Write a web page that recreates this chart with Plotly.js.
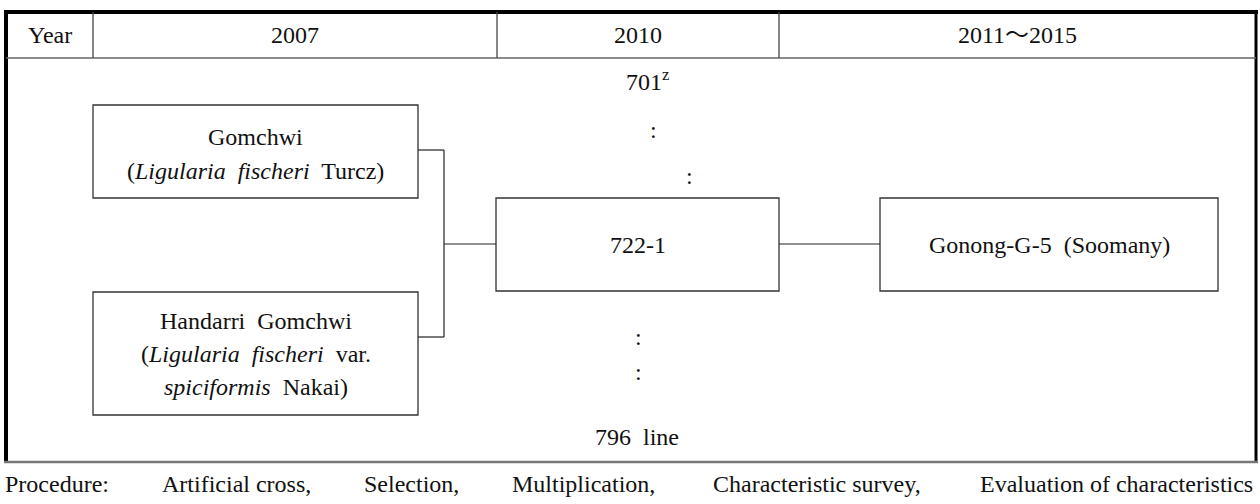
<!DOCTYPE html>
<html>
<head>
<meta charset="utf-8">
<script src="https://cdn.plot.ly/plotly-3.0.1.min.js"></script>
<style>html,body{margin:0;padding:0;background:#fff;}#chart{width:1260px;height:504px;}</style>
</head>
<body>
<div id="chart"></div>
<script>
// ---- content ----
const yearLabels = ["Year", "2007", "2010", "2011\uFF5E2015"];
const parentLines = [
  ["Gomchwi", "(<i>Ligularia  fischeri</i>  Turcz)"],
  ["Handarri  Gomchwi", "(<i>Ligularia  fischeri</i>  var.", "<i>spiciformis</i>  Nakai)"]
];
const lineLabel = "722-1";
const varietyLabel = "Gonong-G-5  (Soomany)";
const lineRangeLabels = ["701<sup>z</sup>", "796  line"];
const ellipsisMark = ":";
const procedureItems = ["Procedure:", "Artificial cross,", "Selection,", "Multiplication,", "Characteristic survey,", "Evaluation of characteristics"];

// ---- layout geometry (pixels) ----
const W = 1260, H = 504;
const FONT = "Liberation Serif";
const FONT_TILDE = "Liberation Serif, Noto Sans CJK KR";
const fs = 24;
const ink = "#111";
const shapes = [];
const ann = [];

function seg(x0, y0, x1, y1, w, c) {
  shapes.push({type: "line", xref: "x", yref: "y", x0, y0, x1, y1, line: {color: c || "#222", width: w || 1.2}});
}
function box(x0, y0, x1, y1) {
  shapes.push({type: "rect", xref: "x", yref: "y", x0, y0, x1, y1, line: {color: "#333", width: 1.3}, fillcolor: "rgba(0,0,0,0)"});
}
function label(t, x, y, opts, fam) {
  ann.push(Object.assign({text: t, x, y, xref: "x", yref: "y", showarrow: false, xanchor: "center", yanchor: "middle",
    align: "center", font: {family: fam || FONT, size: fs, color: ink}}, opts || {}));
}

// table frame
const tTop = 12, headBot = 58, procTop = 462;
const tLeft = 6, tRight = 1256;
const colX = [tLeft, 93, 497, 779, tRight];
seg(tLeft - 2, tTop, tRight + 2, tTop, 4, "#000");
seg(tLeft, tTop, tLeft, procTop, 4, "#000");
seg(tRight, tTop, tRight, procTop, 3, "#000");
seg(tLeft, headBot, tRight, headBot, 1.5, "#666");
seg(tLeft - 2, procTop, tRight + 2, procTop, 2.5, "#777");
for (let i = 1; i < 4; i++) seg(colX[i], tTop, colX[i], headBot, 1.3, "#444");

// header
yearLabels.forEach((lab, i) => label(lab, (colX[i] + colX[i + 1]) / 2, 35, null, i === 3 ? FONT_TILDE : FONT));

// boxes
const pBox = [[93, 105, 418, 198], [93, 292, 418, 415]];
const pLineY = [[137, 171], [321, 354, 387]];
const mBox = [496, 198, 779, 291];
const vBox = [880, 198, 1218, 291];
pBox.forEach((b, i) => {
  box(...b);
  parentLines[i].forEach((t, j) => label(t, (b[0] + b[2]) / 2, pLineY[i][j]));
});
box(...mBox); label(lineLabel, (mBox[0] + mBox[2]) / 2, 245);
box(...vBox); label(varietyLabel, (vBox[0] + vBox[2]) / 2, 245);

// connectors
const jx = 444;
seg(418, 150, jx, 150);
seg(jx, 150, jx, 337);
seg(418, 337, jx, 337);
seg(jx, 244, 496, 244);
seg(779, 244, 880, 244);

// line range labels and ellipses
label(lineRangeLabels[0], 647, 80);
label(ellipsisMark, 653, 130);
label(ellipsisMark, 689, 176);
label(ellipsisMark, 638, 337);
label(ellipsisMark, 638, 372);
label(lineRangeLabels[1], 637, 437);

// procedure row (left edges, spread across the full width)
const procX = [3, 160, 362, 510, 711, 978];
procedureItems.forEach((p, i) => label(p, procX[i], 484, {xanchor: "left"}));

Plotly.newPlot("chart", [], {
  width: W, height: H,
  margin: {l: 0, r: 0, t: 0, b: 0},
  paper_bgcolor: "#fff", plot_bgcolor: "#fff",
  showlegend: false,
  font: {family: FONT},
  xaxis: {range: [0, W], visible: false, fixedrange: true},
  yaxis: {range: [H, 0], visible: false, fixedrange: true},
  shapes: shapes,
  annotations: ann
}, {staticPlot: true, displayModeBar: false});
</script>
</body>
</html>
